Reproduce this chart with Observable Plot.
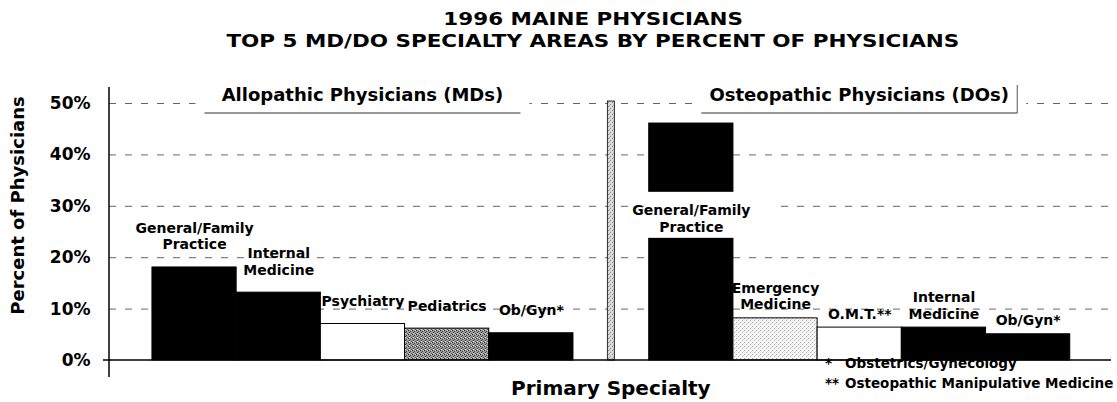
<!DOCTYPE html>
<html><head><meta charset="utf-8">
<script src="https://cdn.jsdelivr.net/npm/d3@7"></script>
<script src="https://cdn.jsdelivr.net/npm/@observablehq/plot@0.6"></script>
<style>
body{margin:0;background:#fff;font-family:"DejaVu Sans",sans-serif;}
#title{height:62px;box-sizing:border-box;padding-top:8px;padding-left:69px;text-align:center;font-weight:bold;font-size:18.5px;line-height:21.5px;color:#000;}
#title div span{display:inline-block;transform:scaleX(1.16);transform-origin:center;}
#chart svg{display:block;}
</style></head><body>
<div id="title"></div>
<div id="chart"></div>
<script>
// ---- data ----
const titleLines = ["1996 MAINE PHYSICIANS", "TOP 5 MD/DO SPECIALTY AREAS BY PERCENT OF PHYSICIANS"];
const panelTitles = ["Allopathic Physicians (MDs)", "Osteopathic Physicians (DOs)"];
const mdSpecialties = ["General/Family Practice", "Internal Medicine", "Psychiatry", "Pediatrics", "Ob/Gyn*"];
const mdPercents = [18.1, 13.2, 7.1, 6.2, 5.3];
const doSpecialties = ["General/Family Practice", "Emergency Medicine", "O.M.T.**", "Internal Medicine", "Ob/Gyn*"];
const doPercents = [46.1, 8.2, 6.4, 6.4, 5.1];
const yTicks = [0, 10, 20, 30, 40, 50];
const xTitle = "Primary Specialty";
const yTitle = "Percent of Physicians";
const footnoteMarks = ["*", "**"];
const footnoteTexts = ["Obstetrics/Gynecology", "Osteopathic Manipulative Medicine"];

// ---- styles ----
const mdFills = ["#000", "#000", "#fff", "url(#stippleDark)", "#000"];
const doFills = ["#000", "url(#stippleLight)", "#fff", "#000", "#000"];
const GAP = 0.9; // space between the two panels, in bar widths
const FONT = "'DejaVu Sans', sans-serif";

document.getElementById("title").innerHTML = titleLines.map(t => `<div><span>${t}</span></div>`).join("");

const rows = [
  ...mdSpecialties.map((name, i) => ({panel: "MD", name, value: mdPercents[i], x1: i, x2: i + 1, fill: mdFills[i]})),
  ...doSpecialties.map((name, i) => ({panel: "DO", name, value: doPercents[i], x1: 5 + GAP + i, x2: 6 + GAP + i, fill: doFills[i]}))
].map(d => ({...d, label: d.name.replace(" ", "\n"), xm: (d.x1 + d.x2) / 2}));

const sepX = 5 + GAP / 2;
const yMax = d3.max(yTicks);
const insideRows = rows.filter(d => d.value > 40);
const outsideRows = rows.filter(d => d.value <= 40);

const defsMark = () => {
  const g = d3.create("svg:g");
  const defs = g.append("defs");
  const pat = (id, bg, dots) => {
    const p = defs.append("pattern").attr("id", id).attr("width", 4).attr("height", 4).attr("patternUnits", "userSpaceOnUse");
    p.append("rect").attr("width", 4).attr("height", 4).attr("fill", bg);
    for (const [x, y, c] of dots) p.append("rect").attr("x", x).attr("y", y).attr("width", 1).attr("height", 1).attr("fill", c);
  };
  pat("stippleDark", "#9a9a9a", [[0,0,"#222"],[2,1,"#444"],[1,2,"#333"],[3,3,"#555"],[3,0,"#ccc"],[1,3,"#ddd"]]);
  pat("stippleLight", "#f4f4f4", [[0,0,"#aaa"],[2,2,"#bbb"],[3,1,"#ddd"]]);
  pat("stippleSep", "#d8d8d8", [[0,0,"#888"],[2,2,"#999"],[1,3,"#aaa"]]);
  return g.node();
};

const insideBoxMark = (index, {x, y}) => {
  const g = d3.create("svg:g");
  for (const d of insideRows) {
    const cy = y(d.value * 0.6);
    g.append("rect").attr("x", x(d.x1) - 2).attr("y", cy - 26).attr("width", 132).attr("height", 46).attr("fill", "#fff");
  }
  return g.node();
};

const overlayMark = (index, {x, y}, values, dims) => {
  const {width, height, marginLeft, marginRight} = dims;
  const g = d3.create("svg:g").attr("font-family", FONT).attr("font-weight", "bold").attr("fill", "#000");
  // separator between panels
  const sx = x(sepX);
  g.append("rect").attr("x", sx - 3.5).attr("y", y(yMax) - 2).attr("width", 7).attr("height", y(0) - y(yMax) + 2)
    .attr("fill", "url(#stippleSep)").attr("stroke", "#000").attr("stroke-width", 0.8);
  // panel headers
  const centers = [x(2.5), x(5 + GAP + 2.5)];
  panelTitles.forEach((t, i) => {
    const cx = centers[i], top = y(yMax) - 18, bot = y(yMax) + 10;
    g.append("rect").attr("x", cx - 167).attr("y", top).attr("width", 334).attr("height", bot - top).attr("fill", "#fff");
    g.append("line").attr("x1", cx - 158).attr("x2", cx + 158).attr("y1", bot).attr("y2", bot).attr("stroke", "#333").attr("stroke-width", 1.2);
    if (i === 1) g.append("line").attr("x1", cx + 158).attr("x2", cx + 158).attr("y1", top).attr("y2", bot).attr("stroke", "#555");
    g.append("text").attr("x", cx).attr("y", y(yMax) - 2).attr("text-anchor", "middle").attr("font-size", 18).text(t);
  });
  // axis lines
  g.append("line").attr("x1", marginLeft).attr("x2", marginLeft).attr("y1", y(yMax) - 16).attr("y2", y(0) + 17).attr("stroke", "#000").attr("stroke-width", 1.5);
  g.append("line").attr("x1", marginLeft - 6).attr("x2", width - marginRight).attr("y1", y(0)).attr("y2", y(0)).attr("stroke", "#000").attr("stroke-width", 1.5);
  // axis titles
  g.append("text").attr("x", sx).attr("y", height - 7).attr("text-anchor", "middle").attr("font-size", 20).text(xTitle);
  g.append("text").attr("transform", `translate(24,${(y(0) + y(yMax)) / 2 - 26}) rotate(-90)`).attr("text-anchor", "middle").attr("font-size", 18).text(yTitle);
  // footnotes
  footnoteMarks.forEach((m, i) => {
    const by = y(0) + 8 + i * 20;
    g.append("text").attr("x", 825).attr("y", by).attr("text-anchor", "start").attr("font-size", 13.5).text(m);
    g.append("text").attr("x", 845).attr("y", by).attr("text-anchor", "start").attr("font-size", 13.5).text(footnoteTexts[i]);
  });
  return g.node();
};

const labelOpts = {x: "xm", text: "label", fontSize: 14, fontWeight: "bold", lineHeight: 1.2, fill: "#000"};

const chart = Plot.plot({
  width: 1117, height: 340,
  marginLeft: 109, marginRight: 6, marginTop: 41, marginBottom: 42,
  x: {type: "linear", domain: [-0.51, 10 + GAP + 0.49], axis: null},
  y: {type: "linear", domain: [0, yMax], axis: null},
  color: {type: "identity"},
  style: {fontFamily: FONT, background: "white", overflow: "visible"},
  marks: [
    defsMark,
    Plot.ruleY(yTicks.filter(d => d > 0), {stroke: "#666", strokeDasharray: "7,9"}),
    Plot.rectY(rows, {x1: "x1", x2: "x2", y: "value", fill: "fill", stroke: "#000", strokeWidth: 1}),
    insideBoxMark,
    Plot.text(outsideRows.filter(d => d.panel === "MD"), {...labelOpts, y: "value", lineAnchor: "bottom", dy: -18}),
    Plot.text(outsideRows.filter(d => d.panel === "DO"), {...labelOpts, y: "value", lineAnchor: "bottom", dy: -9}),
    Plot.text(insideRows, {...labelOpts, y: d => d.value * 0.6, lineAnchor: "middle"}),
    Plot.text(yTicks, {y: d => d, text: d => d + "%", frameAnchor: "left", textAnchor: "end", dx: -19, fontSize: 17, fontWeight: "bold", fill: "#000"}),
    overlayMark
  ]
});
document.getElementById("chart").appendChild(chart);
</script>
</body></html>
